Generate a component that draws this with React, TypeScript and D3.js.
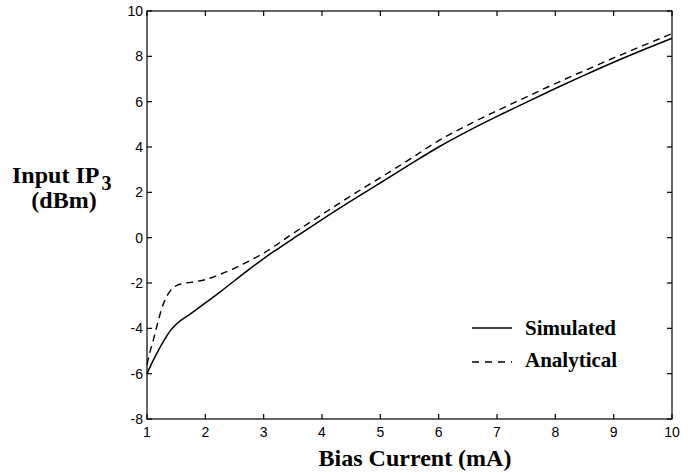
import React from "react";
import * as d3 from "d3";

const xTicks = [1, 2, 3, 4, 5, 6, 7, 8, 9, 10];
const yTicks = [-8, -6, -4, -2, 0, 2, 4, 6, 8, 10];

const simX = [1.0, 1.1, 1.2, 1.3, 1.4, 1.5, 1.75, 2.0, 2.25, 2.5, 2.75, 3.0, 3.25, 3.5, 4.0, 4.5, 5.0, 5.5, 6.0, 6.5, 7.0, 7.5, 8.0, 8.5, 9.0, 9.5, 10.0];
const simY = [-6.0, -5.45, -4.95, -4.5, -4.1, -3.82, -3.35, -2.88, -2.4, -1.9, -1.4, -0.92, -0.48, -0.05, 0.8, 1.62, 2.42, 3.22, 4.0, 4.7, 5.35, 5.97, 6.58, 7.17, 7.74, 8.28, 8.8];

const anaX = [1.0, 1.05, 1.1, 1.15, 1.2, 1.25, 1.3, 1.4, 1.5, 1.6, 1.75, 2.0, 2.25, 2.5, 2.75, 3.0, 3.5, 4.0, 4.5, 5.0, 5.5, 6.0, 6.5, 7.0, 7.5, 8.0, 8.5, 9.0, 9.5, 10.0];
const anaY = [-5.6, -5.05, -4.6, -4.1, -3.6, -3.15, -2.8, -2.35, -2.12, -2.03, -1.97, -1.85, -1.62, -1.35, -1.03, -0.68, 0.18, 1.02, 1.85, 2.65, 3.45, 4.28, 4.97, 5.6, 6.2, 6.8, 7.37, 7.93, 8.47, 9.0];

const legendLabels = ["Simulated", "Analytical"];

export default function App() {
  const x = d3.scaleLinear().domain([1, 10]).range([147, 672]);
  const y = d3.scaleLinear().domain([-8, 10]).range([419, 11]);
  const line = d3
    .line<[number, number]>()
    .x((d) => x(d[0]))
    .y((d) => y(d[1]))
    .curve(d3.curveMonotoneX);
  const simPath = line(simX.map((v, i) => [v, simY[i]]) as [number, number][]) || "";
  const anaPath = line(anaX.map((v, i) => [v, anaY[i]]) as [number, number][]) || "";
  const [x0, x1] = x.range();
  const [y0, y1] = y.range();
  const tl = 5;
  const serif = "'Liberation Serif', 'Times New Roman', serif";
  const sans = "'Liberation Sans', Arial, sans-serif";
  return (
    <svg width={694} height={473} style={{ position: "absolute", left: 0, top: 0, background: "#fff" }}>
      <rect x={0} y={0} width={694} height={473} fill="#fff" />
      <g stroke="#000" strokeWidth={1.2} fill="none">
        <rect x={x0} y={y1} width={x1 - x0} height={y0 - y1} />
        {xTicks.map((t) => (
          <g key={"xt" + t}>
            <line x1={x(t)} x2={x(t)} y1={y0} y2={y0 - tl} />
            <line x1={x(t)} x2={x(t)} y1={y1} y2={y1 + tl} />
          </g>
        ))}
        {yTicks.map((t) => (
          <g key={"yt" + t}>
            <line x1={x0} x2={x0 + tl} y1={y(t)} y2={y(t)} />
            <line x1={x1} x2={x1 - tl} y1={y(t)} y2={y(t)} />
          </g>
        ))}
      </g>
      <g fontFamily={sans} fontSize={14} fill="#000">
        {xTicks.map((t) => (
          <text key={"xl" + t} x={x(t)} y={y0 + 18} textAnchor="middle">
            {t}
          </text>
        ))}
        {yTicks.map((t) => (
          <text key={"yl" + t} x={x0 - 4} y={y(t) + 5} textAnchor="end">
            {t < 0 ? "-" + Math.abs(t) : t}
          </text>
        ))}
      </g>
      <path d={simPath} fill="none" stroke="#000" strokeWidth={1.5} />
      <path d={anaPath} fill="none" stroke="#000" strokeWidth={1.4} strokeDasharray="7,5" />
      <g fontFamily={serif} fontWeight="bold" fill="#000">
        <text x={12} y={183} fontSize={24}>
          Input IP<tspan fontSize={20} dx={2} dy={7}>3</tspan>
        </text>
        <text x={64} y={208} fontSize={24} textAnchor="middle">(dBm)</text>
        <text x={415} y={466} fontSize={24} textAnchor="middle">Bias Current (mA)</text>
      </g>
      <g>
        <line x1={472} x2={512} y1={328} y2={328} stroke="#000" strokeWidth={1.5} />
        <line x1={472} x2={512} y1={362} y2={362} stroke="#000" strokeWidth={1.4} strokeDasharray="7,6" />
        <g fontFamily={serif} fontWeight="bold" fontSize={21} fill="#000">
          <text x={525} y={335}>{legendLabels[0]}</text>
          <text x={525} y={367}>{legendLabels[1]}</text>
        </g>
      </g>
    </svg>
  );
}
